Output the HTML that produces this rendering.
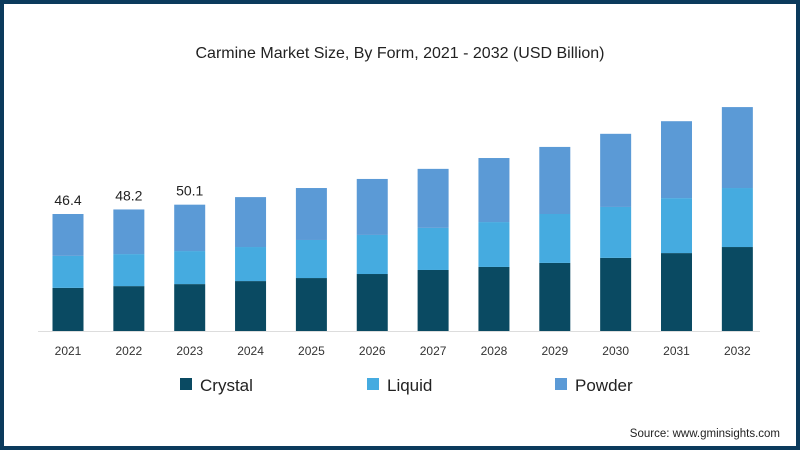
<!DOCTYPE html>
<html><head><meta charset="utf-8"><style>
html,body{margin:0;padding:0;background:#fff}
#wrap{position:relative;width:800px;height:450px;box-sizing:border-box;border:4px solid #0b3a5c;background:#fff;font-family:"Liberation Sans",sans-serif}
svg{position:absolute;left:-4px;top:-4px}
</style></head><body>
<div id="wrap">
<svg id="chart" width="800" height="450"></svg>
</div>
<script>
const years=["2021","2022","2023","2024","2025","2026","2027","2028","2029","2030","2031","2032"];
const crystal=[17.1,17.8,18.6,19.8,21.0,22.6,24.2,25.4,27.0,29.0,30.9,33.3];
const liquid=[12.7,12.7,13.1,13.5,15.1,15.5,16.7,17.8,19.4,20.2,21.8,23.4];
const powder=[16.6,17.7,18.4,19.8,20.6,22.2,23.4,25.4,26.6,29.0,30.5,32.1];
const totalLabels=["46.4","48.2","50.1"];
const seriesNames=["Crystal","Liquid","Powder"];
const colors=["#0a4a62","#45abe0","#5b9ad6"];
const NS="http://www.w3.org/2000/svg";
const svg=document.getElementById('chart');
const baseY=331, pxPerUnit=117/46.4, x0=68, step=60.85, bw=31;
const yS=v=>baseY-v*pxPerUnit;
const xS=i=>x0+i*step;
function mk(tag,attrs,text){const e=document.createElementNS(NS,tag);for(const k in attrs)e.setAttribute(k,attrs[k]);if(text!==undefined)e.textContent=text;svg.appendChild(e);return e;}
const t=mk('text',{x:400,y:58,'text-anchor':'middle','font-size':16,fill:'#222','font-family':'Liberation Sans, sans-serif'},'Carmine Market Size, By Form, 2021 - 2032 (USD Billion)');


const ax=mk('line',{x1:38,x2:760,y1:baseY+0.5,y2:baseY+0.5,stroke:'#ddd','stroke-width':1});


const series=[crystal,liquid,powder];
years.forEach((yr,i)=>{
  let cum=0;
  series.forEach((s,k)=>{
    const y1=yS(cum), y2=yS(cum+s[i]);
    const r=mk('rect',{x:xS(i)-bw/2,y:y2,width:bw,height:y1-y2,fill:colors[k]});
    
    
    cum+=s[i];
  });
  const lb=mk('text',{x:xS(i),y:355,'text-anchor':'middle','font-size':12,fill:'#333'},yr);
  
  
  if(i<totalLabels.length){
    const tl=mk('text',{x:xS(i),y:yS(cum)-9,'text-anchor':'middle','font-size':14,fill:'#222'},totalLabels[i]);
    
    
  }
});
const legX=[180,367,555];
seriesNames.forEach((n,k)=>{
  const r=mk('rect',{x:legX[k],y:378,width:12,height:12,fill:colors[k]});
  
  
  const tx=mk('text',{x:legX[k]+20,y:391,'font-size':17,fill:'#222'},n);
  
  
});
const src=mk('text',{x:780,y:437,'text-anchor':'end','font-size':11.5,fill:'#222'},'Source: www.gminsights.com');


</script>
</body></html>
